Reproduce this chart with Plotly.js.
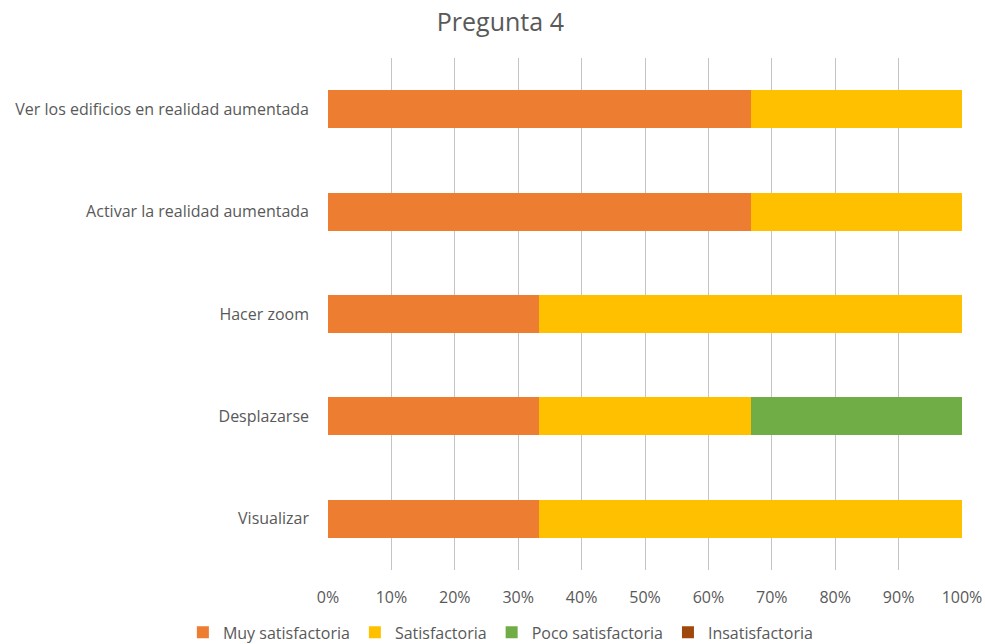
<!DOCTYPE html>
<html>
<head>
<meta charset="utf-8">
<script src="https://cdn.plot.ly/plotly-3.0.1.min.js"></script>
<style>html,body{margin:0;padding:0;background:#fff;}#chart{width:985px;height:644px;}</style>
</head>
<body>
<div id="chart"></div>
<script>
const categories = ["Visualizar", "Desplazarse", "Hacer zoom", "Activar la realidad aumentada", "Ver los edificios en realidad aumentada"];
const seriesNames = ["Muy satisfactoria", "Satisfactoria", "Poco satisfactoria", "Insatisfactoria"];
const muySatisfactoria = [1, 1, 1, 2, 2];
const satisfactoria = [2, 1, 2, 1, 1];
const pocoSatisfactoria = [0, 1, 0, 0, 0];
const insatisfactoria = [0, 0, 0, 0, 0];
const tickVals = [0, 0.1, 0.2, 0.3, 0.4, 0.5, 0.6, 0.7, 0.8, 0.9, 1.0];
const tickText = ["0%", "10%", "20%", "30%", "40%", "50%", "60%", "70%", "80%", "90%", "100%"];

const colors = ["#ED7D31", "#FFC000", "#70AD47", "#9E480E"];
const values = [muySatisfactoria, satisfactoria, pocoSatisfactoria, insatisfactoria];
const fontFam = "'Open Sans', 'Liberation Sans', sans-serif";

const data = values.map((v, i) => ({
  type: 'bar',
  orientation: 'h',
  name: seriesNames[i],
  y: categories,
  x: v,
  marker: {color: colors[i], line: {color: colors[i], width: 0}},
  width: 0.37,
  hoverinfo: 'x+y+name'
}));

const layout = {
  width: 985, height: 644,
  margin: {l: 328, r: 23, t: 58, b: 74, autoexpand: false},
  barmode: 'stack',
  barnorm: 'fraction',
  paper_bgcolor: '#fff', plot_bgcolor: '#fff',
  font: {family: fontFam, color: '#595959', size: 16},
  title: {text: 'Pregunta 4', font: {family: fontFam, size: 25, color: '#595959'}, x: 0.508, xanchor: 'center', y: 0.965, yanchor: 'middle'},
  xaxis: {
    range: [0, 1], tickvals: tickVals, ticktext: tickText,
    showgrid: true, gridcolor: '#C4C4C4', gridwidth: 1,
    zeroline: false, showline: false, ticks: '', ticklen: 0, ticklabelstandoff: 16,
    tickfont: {size: 16, color: '#595959'}, fixedrange: true
  },
  yaxis: {
    type: 'category', categoryorder: 'array', categoryarray: categories,
    range: [-0.5, 4.5], showgrid: false, zeroline: false, showline: false,
    ticks: '', ticklen: 0, ticklabelstandoff: 18, tickfont: {size: 16, color: '#595959'}, automargin: false, fixedrange: true
  },
  showlegend: true,
  legend: {orientation: 'h', x: 0.508, xanchor: 'center', xref: 'container', y: 0.018, yanchor: 'middle', yref: 'container', traceorder: 'normal',
    font: {size: 16, color: '#595959'}, itemwidth: 30, itemsizing: 'constant'},
  bargap: 0.63
};

Plotly.newPlot('chart', data, layout, {displayModeBar: false, staticPlot: true});
</script>
</body>
</html>
